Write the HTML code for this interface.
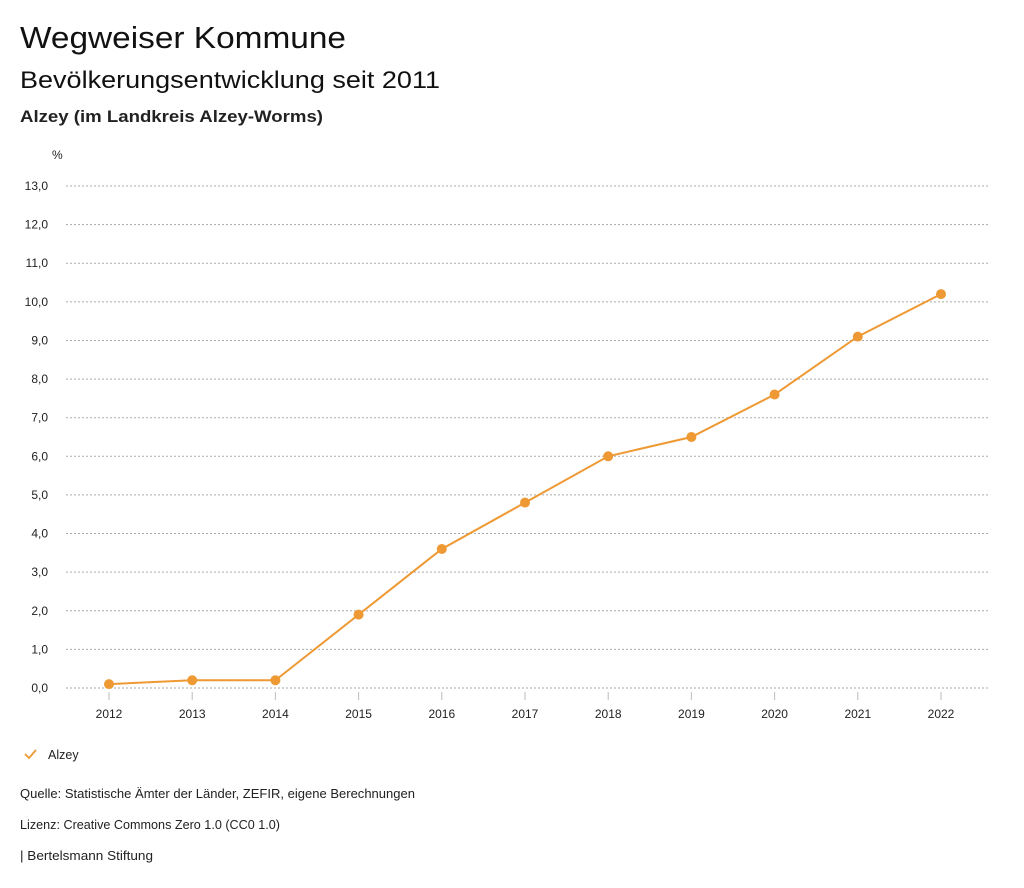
<!DOCTYPE html>
<html><head><meta charset="utf-8"><style>
html,body{margin:0;padding:0;background:#fff;}
svg{display:block;font-family:"Liberation Sans","DejaVu Sans",sans-serif;}
</style></head><body>
<svg id="chart" width="1024" height="888" viewBox="0 0 1024 888" xmlns="http://www.w3.org/2000/svg">
<text x="20" y="48" font-size="31" textLength="326" lengthAdjust="spacingAndGlyphs" fill="#111">Wegweiser Kommune</text>
<text x="20" y="88" font-size="24" textLength="420" lengthAdjust="spacingAndGlyphs" fill="#111">Bevölkerungsentwicklung seit 2011</text>
<text x="20" y="122" font-size="17" font-weight="bold" textLength="303" lengthAdjust="spacingAndGlyphs" fill="#222">Alzey (im Landkreis Alzey-Worms)</text>
<text x="52" y="159" font-size="12" fill="#222">%</text>
<g id="grid"></g><g id="xaxis"></g><g id="series"></g>
<g>
<polyline points="25,754 29,758 36,750" fill="none" stroke="#ee9933" stroke-width="1.8"/>
<text x="48" y="759" font-size="12.5" fill="#222">Alzey</text>
</g>
<text x="20" y="798" font-size="12.5" textLength="395" lengthAdjust="spacingAndGlyphs" fill="#222">Quelle: Statistische Ämter der Länder, ZEFIR, eigene Berechnungen</text>
<text x="20" y="829" font-size="12.5" textLength="260" lengthAdjust="spacingAndGlyphs" fill="#222">Lizenz: Creative Commons Zero 1.0 (CC0 1.0)</text>
<text x="20" y="860" font-size="12.5" textLength="133" lengthAdjust="spacingAndGlyphs" fill="#222">| Bertelsmann Stiftung</text>
</svg>
<script>
const years = ["2012","2013","2014","2015","2016","2017","2018","2019","2020","2021","2022"];
const values = [0.1,0.2,0.2,1.9,3.6,4.8,6.0,6.5,7.6,9.1,10.2];
const yTicks = [0,1,2,3,4,5,6,7,8,9,10,11,12,13];
const NS="http://www.w3.org/2000/svg";
function y(v){return 688-(v/13)*(688-186);}
function x(i){return 109+i*(941-109)/(years.length-1);}
function mk(tag,attrs,parent){const e=document.createElementNS(NS,tag);for(const k in attrs)e.setAttribute(k,attrs[k]);parent.appendChild(e);return e;}
const grid=document.getElementById('grid'),xa=document.getElementById('xaxis'),se=document.getElementById('series');
yTicks.forEach(t=>{
  const l=mk('line',{x1:66,x2:990,y1:y(t),y2:y(t),stroke:'#aaa','stroke-width':1,'stroke-dasharray':'2,2'},grid);
  
  
  const tx=mk('text',{x:48,y:y(t)+4,'font-size':12,'text-anchor':'end',fill:'#222'},grid);
  tx.textContent=t.toFixed(1).replace('.',',');
  
  
});
years.forEach((yr,i)=>{
  const l=mk('line',{x1:x(i),x2:x(i),y1:692,y2:700,stroke:'#bbb','stroke-width':1},xa);
  
  
  const tx=mk('text',{x:x(i),y:718,'font-size':12,'text-anchor':'middle',fill:'#222'},xa);
  tx.textContent=yr;
  
  
});
const pl=mk('polyline',{points:values.map((v,i)=>x(i)+','+y(v)).join(' '),fill:'none',stroke:'#ee9933','stroke-width':2},se);


values.forEach((v,i)=>{
  const c=mk('circle',{cx:x(i),cy:y(v),r:5,fill:'#ee9933'},se);
  
  
});
</script>
</body></html>
